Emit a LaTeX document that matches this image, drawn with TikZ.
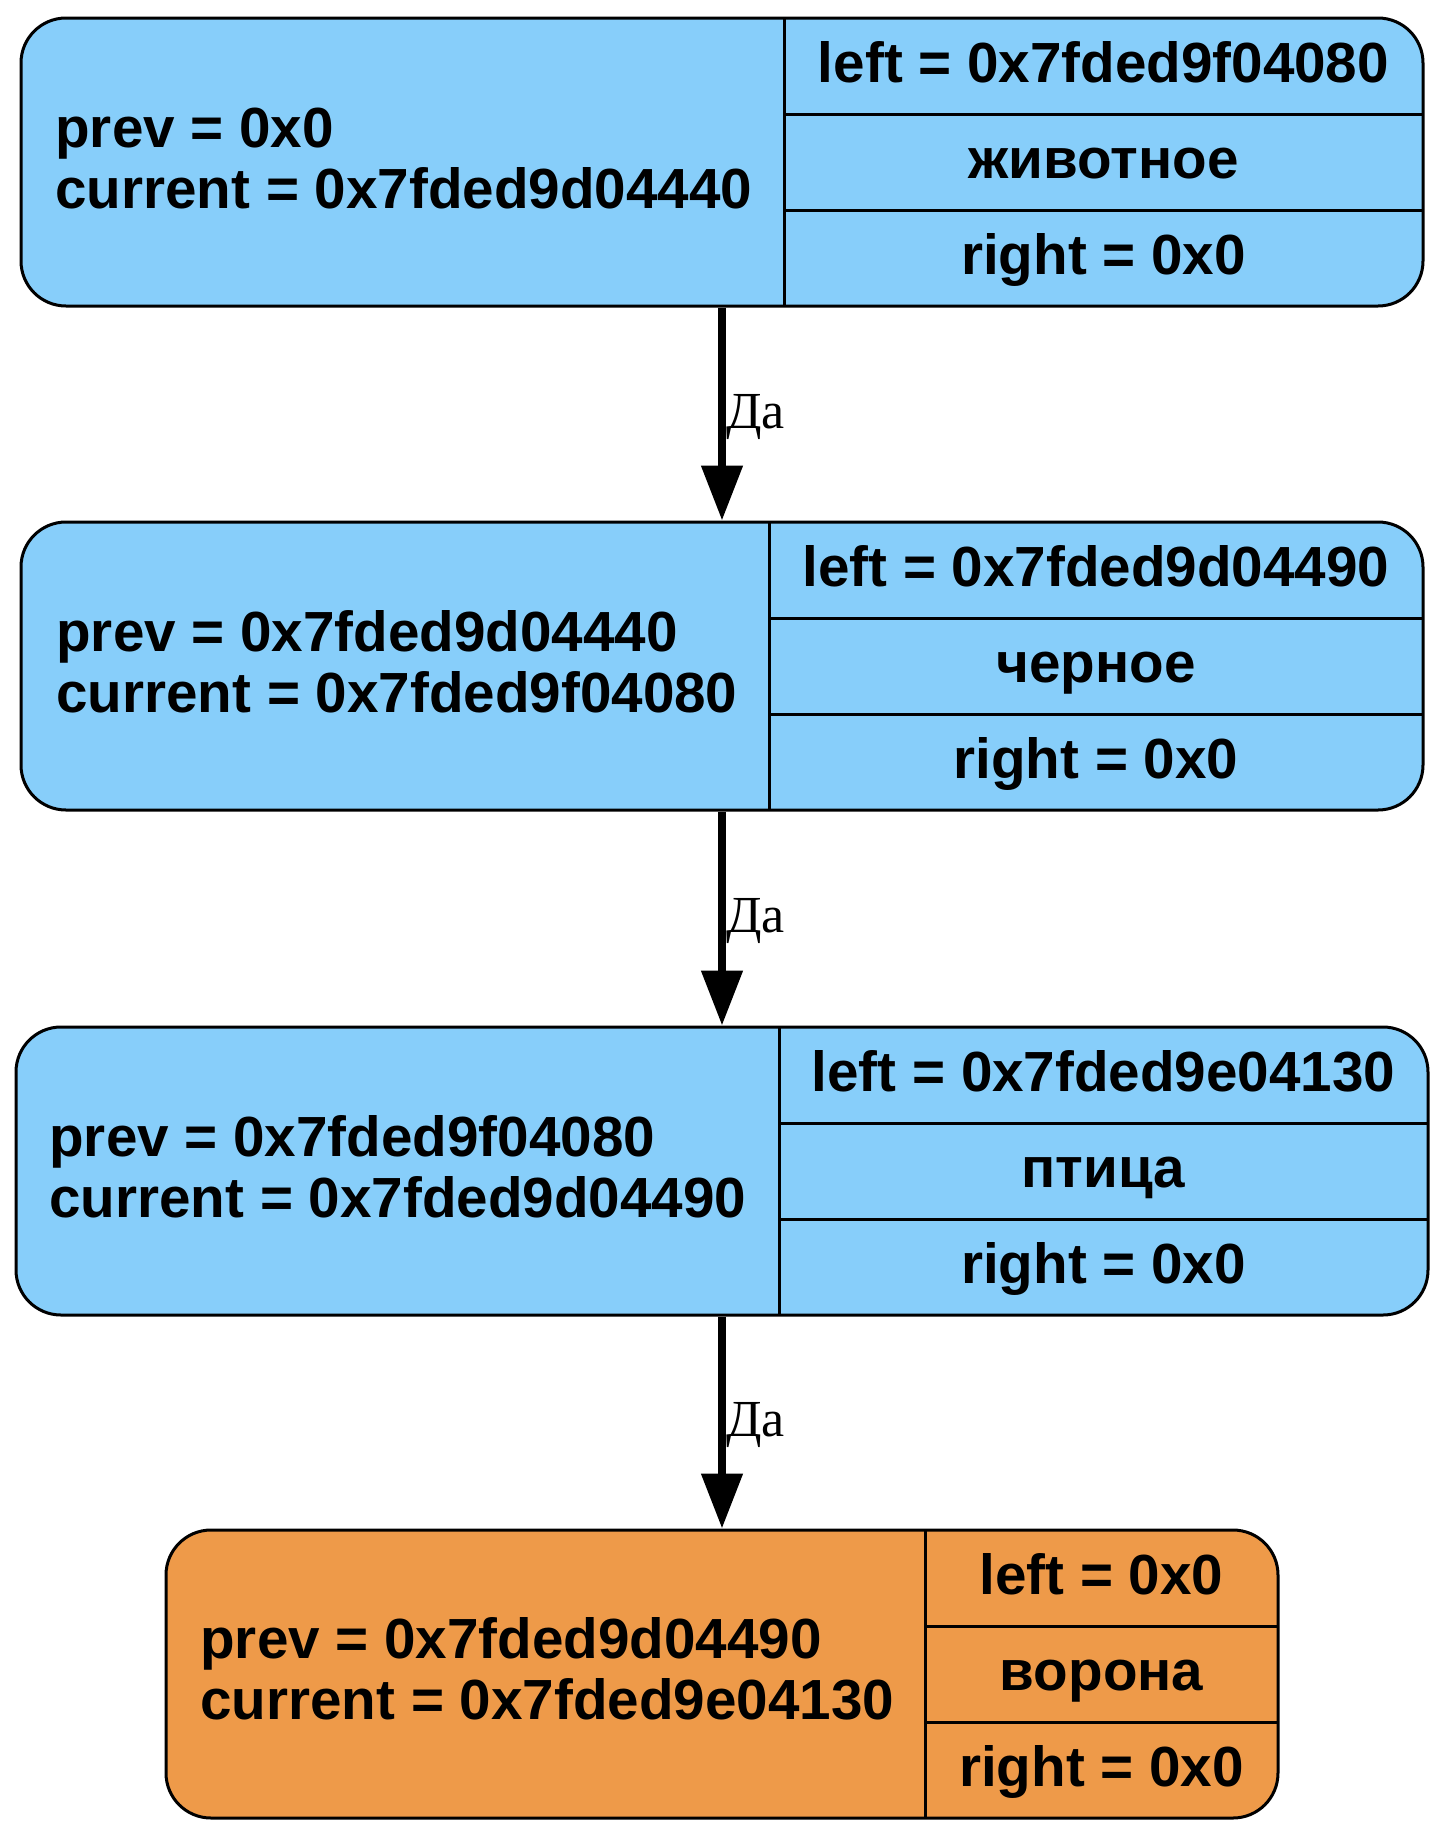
\documentclass[tikz,border=0pt]{standalone}
\usepackage{fontspec}
\setmainfont{Liberation Sans}
\newfontfamily\edgefont{Liberation Serif}
\usetikzlibrary{arrows.meta,calc}
\definecolor{nodeblue}{HTML}{87CEFA}
\definecolor{nodeorange}{HTML}{EE9A49}
\tikzset{
  record/.style={draw=black, line width=1.5pt, rounded corners=22.5pt,
    inner sep=0pt, minimum height=144pt},
  field/.style={font=\fontsize{28.3}{30.5}\selectfont\bfseries, inner sep=0pt, anchor=base},
  fieldleft/.style={field, anchor=base west},
  divider/.style={line width=1.5pt},
  edge/.style={line width=4pt, -{Triangle[length=27.5pt,width=20pt]}},
  edgelabel/.style={font=\edgefont\fontsize{26}{28}\selectfont, inner sep=0pt,
    anchor=base west, xshift=0pt, yshift=-7pt}
}
\begin{document}
\begin{tikzpicture}[x=0.5pt,y=-0.5pt]
\useasboundingbox (0,0) rectangle (1446,1838);

% record 1: животное
\node[record, fill=nodeblue, minimum width=701pt] (n1) at (722,162) {};
\draw[divider] (784,18) -- (784,306);
\draw[divider] (784,114) -- (1423,114);
\draw[divider] (784,210) -- (1423,210);
\node[fieldleft] (n1prev) at (55,147) {prev = 0x0};
\node[fieldleft] (n1cur) at (55,208) {current = 0x7fded9d04440};
\node[field] (n1left) at (1103.5,82) {left = 0x7fded9f04080};
\node[field] (n1val) at (1103.5,178) {животное};
\node[field] (n1right) at (1103.5,274) {right = 0x0};

% record 2: черное
\node[record, fill=nodeblue, minimum width=701pt] (n2) at (722,666) {};
\draw[divider] (769,522) -- (769,810);
\draw[divider] (769,618) -- (1423,618);
\draw[divider] (769,714) -- (1423,714);
\node[fieldleft] (n2prev) at (56,651) {prev = 0x7fded9d04440};
\node[fieldleft] (n2cur) at (56,712) {current = 0x7fded9f04080};
\node[field] (n2left) at (1096,586) {left = 0x7fded9d04490};
\node[field] (n2val) at (1096,682) {черное};
\node[field] (n2right) at (1096,778) {right = 0x0};

% record 3: птица
\node[record, fill=nodeblue, minimum width=706pt] (n3) at (722,1171) {};
\draw[divider] (779,1027) -- (779,1315);
\draw[divider] (779,1123) -- (1428,1123);
\draw[divider] (779,1219) -- (1428,1219);
\node[fieldleft] (n3prev) at (49,1156) {prev = 0x7fded9f04080};
\node[fieldleft] (n3cur) at (49,1217) {current = 0x7fded9d04490};
\node[field] (n3left) at (1103.5,1091) {left = 0x7fded9e04130};
\node[field] (n3val) at (1103.5,1187) {птица};
\node[field] (n3right) at (1103.5,1283) {right = 0x0};

% record 4: ворона
\node[record, fill=nodeorange, minimum width=556pt] (n4) at (722,1674) {};
\draw[divider] (925,1530) -- (925,1818);
\draw[divider] (925,1626) -- (1278,1626);
\draw[divider] (925,1722) -- (1278,1722);
\node[fieldleft] (n4prev) at (200,1658) {prev = 0x7fded9d04490};
\node[fieldleft] (n4cur) at (200,1719) {current = 0x7fded9e04130};
\node[field] (n4left) at (1101.5,1594) {left = 0x0};
\node[field] (n4val) at (1101.5,1690) {ворона};
\node[field] (n4right) at (1101.5,1786) {right = 0x0};

% edges
\draw[edge] (n1.south) -- (n2.north) node[edgelabel, midway] (e1) {Да};
\draw[edge] (n2.south) -- (n3.north) node[edgelabel, midway] (e2) {Да};
\draw[edge] (n3.south) -- (n4.north) node[edgelabel, midway] (e3) {Да};
\end{tikzpicture}
\end{document}
